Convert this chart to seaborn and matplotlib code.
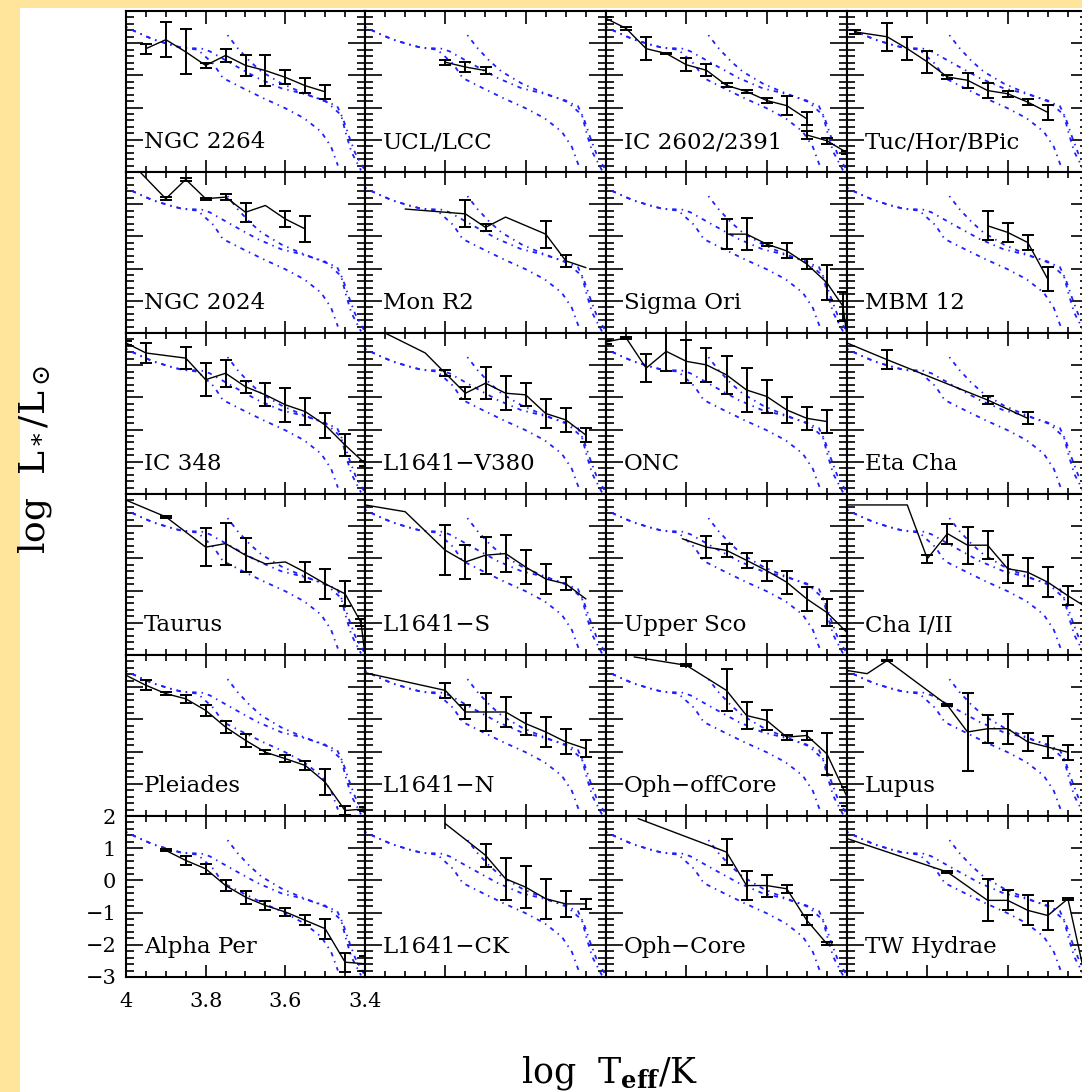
import numpy as np
import pandas as pd
import matplotlib
matplotlib.use("Agg")
import matplotlib.pyplot as plt
from matplotlib.patches import Rectangle
from matplotlib.ticker import MultipleLocator, FuncFormatter
import seaborn as sns

# ---------------- isochrones (shared by every panel) ----------------
iso_young_T = [3.745, 3.72, 3.69, 3.66, 3.61, 3.56, 3.51, 3.47, 3.455, 3.44, 3.425, 3.41, 3.40]
iso_young_L = [1.25, 0.85, 0.45, 0.12, -0.25, -0.52, -0.76, -0.95, -1.35, -1.90, -2.40, -2.75, -2.95]
iso_mid_T = [4.00, 3.96, 3.93, 3.89, 3.86, 3.81, 3.79, 3.73, 3.67, 3.61, 3.56, 3.50, 3.46, 3.447, 3.434, 3.41]
iso_mid_L = [1.50, 1.27, 1.11, 0.96, 0.86, 0.83, 0.75, 0.33, -0.08, -0.40, -0.55, -0.78, -1.23, -1.85, -2.38, -2.95]
iso_old_T = [4.00, 3.96, 3.93, 3.89, 3.86, 3.82, 3.78, 3.757, 3.706, 3.655, 3.60, 3.553, 3.51, 3.485, 3.468]
iso_old_L = [1.50, 1.27, 1.11, 0.96, 0.86, 0.80, 0.35, -0.08, -0.40, -0.71, -1.02, -1.33, -1.75, -2.22, -2.80]

# ---------------- cluster data: log Teff, log L, error ----------------
ngc2264_T = [3.95, 3.90, 3.85, 3.80, 3.75, 3.70, 3.65, 3.60, 3.55, 3.50]
ngc2264_L = [0.83, 1.11, 0.73, 0.31, 0.62, 0.31, 0.15, -0.06, -0.32, -0.51]
ngc2264_E = [0.16, 0.55, 0.70, 0.08, 0.20, 0.32, 0.47, 0.22, 0.23, 0.22]

ucl_T = [3.80, 3.75, 3.70]
ucl_L = [0.41, 0.26, 0.15]
ucl_E = [0.08, 0.15, 0.12]

ic2602_T = [4.00, 3.95, 3.90, 3.85, 3.80, 3.75, 3.70, 3.65, 3.60, 3.55, 3.50, 3.50, 3.45, 3.40]
ic2602_L = [1.77, 1.46, 0.83, 0.68, 0.33, 0.16, -0.31, -0.50, -0.78, -0.94, -1.35, -1.85, -2.03, -2.40]
ic2602_E = [0.05, 0.05, 0.36, 0.03, 0.20, 0.18, 0.06, 0.05, 0.08, 0.30, 0.20, 0.12, 0.10, 0.05]

tuc_T = [3.98, 3.90, 3.85, 3.80, 3.75, 3.70, 3.65, 3.60, 3.55, 3.50]
tuc_L = [1.35, 1.20, 0.83, 0.42, -0.05, -0.15, -0.47, -0.57, -0.83, -1.15]
tuc_E = [0.05, 0.44, 0.36, 0.34, 0.05, 0.23, 0.23, 0.10, 0.10, 0.23]

ngc2024_T = [4.00, 3.90, 3.85, 3.80, 3.75, 3.70, 3.65, 3.60, 3.55]
ngc2024_L = [2.45, 1.17, 1.77, 1.17, 1.22, 0.75, 0.96, 0.54, 0.23]
ngc2024_E = [0.0, 0.04, 0.04, 0.03, 0.10, 0.30, 0.0, 0.25, 0.40]

monr2_T = [3.90, 3.75, 3.70, 3.65, 3.55, 3.50, 3.45]
monr2_L = [0.85, 0.70, 0.28, 0.60, 0.07, -0.76, -0.97]
monr2_E = [0.0, 0.42, 0.10, 0.0, 0.42, 0.18, 0.0]

sigori_T = [3.70, 3.65, 3.60, 3.55, 3.50, 3.45, 3.41, 3.40]
sigori_L = [0.07, 0.07, -0.24, -0.45, -0.86, -1.44, -2.17, -3.10]
sigori_E = [0.47, 0.50, 0.05, 0.23, 0.15, 0.55, 0.45, 0.0]

mbm12_T = [3.65, 3.60, 3.55, 3.50]
mbm12_L = [0.33, 0.125, -0.19, -1.33]
mbm12_E = [0.45, 0.30, 0.22, 0.38]

ic348_T = [4.00, 3.95, 3.85, 3.80, 3.75, 3.70, 3.65, 3.60, 3.55, 3.50, 3.45, 3.40]
ic348_L = [1.69, 1.38, 1.22, 0.55, 0.75, 0.33, 0.08, -0.23, -0.44, -0.86, -1.48, -2.05]
ic348_E = [0.05, 0.31, 0.34, 0.52, 0.42, 0.18, 0.36, 0.52, 0.42, 0.39, 0.34, 0.08]

v380_T = [3.95, 3.85, 3.80, 3.75, 3.70, 3.65, 3.60, 3.55, 3.50, 3.45]
v380_L = [2.00, 1.38, 0.75, 0.13, 0.44, 0.13, 0.08, -0.50, -0.70, -1.17]
v380_E = [0.0, 0.0, 0.10, 0.18, 0.50, 0.52, 0.36, 0.44, 0.36, 0.23]

onc_T = [4.00, 3.95, 3.90, 3.85, 3.80, 3.75, 3.70, 3.65, 3.60, 3.55, 3.50, 3.45]
onc_L = [1.72, 1.85, 0.91, 1.43, 1.12, 1.01, 0.70, 0.23, 0.03, -0.39, -0.65, -0.75]
onc_E = [0.05, 0.03, 0.44, 0.60, 0.67, 0.52, 0.60, 0.67, 0.50, 0.39, 0.36, 0.36]

etacha_T = [4.00, 3.90, 3.65, 3.55]
etacha_L = [1.69, 1.17, -0.08, -0.65]
etacha_E = [0.0, 0.29, 0.12, 0.19]

taurus_T = [4.00, 3.90, 3.80, 3.75, 3.70, 3.65, 3.60, 3.55, 3.50, 3.45, 3.41, 3.40]
taurus_L = [1.81, 1.29, 0.35, 0.46, 0.10, -0.17, -0.11, -0.43, -0.79, -1.10, -1.99, -3.00]
taurus_E = [0.0, 0.03, 0.60, 0.65, 0.52, 0.0, 0.0, 0.31, 0.47, 0.39, 0.10, 0.0]

l1641s_T = [4.00, 3.90, 3.80, 3.75, 3.70, 3.65, 3.60, 3.55, 3.50, 3.45]
l1641s_L = [1.66, 1.45, 0.25, -0.11, 0.10, 0.15, -0.27, -0.64, -0.79, -1.26]
l1641s_E = [0.0, 0.0, 0.78, 0.52, 0.57, 0.57, 0.52, 0.47, 0.20, 0.0]

usco_T = [3.81, 3.75, 3.70, 3.65, 3.60, 3.55, 3.50, 3.45, 3.40]
usco_L = [0.61, 0.35, 0.25, -0.06, -0.38, -0.74, -1.26, -1.68, -2.30]
usco_E = [0.0, 0.34, 0.20, 0.23, 0.31, 0.36, 0.36, 0.42, 0.10]

cha_T = [4.00, 3.85, 3.80, 3.75, 3.70, 3.65, 3.60, 3.55, 3.50, 3.45, 3.40]
cha_L = [1.66, 1.66, -0.01, 0.77, 0.41, 0.41, -0.32, -0.43, -0.74, -1.16, -1.55]
cha_E = [0.0, 0.0, 0.12, 0.31, 0.57, 0.44, 0.44, 0.44, 0.47, 0.29, 0.10]

pleiades_T = [4.00, 3.95, 3.90, 3.85, 3.80, 3.75, 3.70, 3.65, 3.60, 3.55, 3.50, 3.45, 3.40]
pleiades_L = [1.37, 1.06, 0.80, 0.64, 0.28, -0.24, -0.65, -1.02, -1.22, -1.43, -1.95, -2.83, -2.78]
pleiades_E = [0.0, 0.15, 0.05, 0.12, 0.18, 0.18, 0.20, 0.06, 0.10, 0.15, 0.41, 0.15, 0.05]

l1641n_T = [4.00, 3.80, 3.75, 3.70, 3.65, 3.60, 3.55, 3.50, 3.45]
l1641n_L = [1.45, 0.90, 0.23, 0.23, 0.23, -0.13, -0.39, -0.70, -0.91]
l1641n_E = [0.0, 0.23, 0.21, 0.60, 0.47, 0.34, 0.47, 0.39, 0.26]

ophoff_T = [3.93, 3.80, 3.70, 3.65, 3.60, 3.55, 3.50, 3.45, 3.40]
ophoff_L = [1.94, 1.68, 0.90, 0.12, -0.03, -0.55, -0.50, -1.07, -2.40]
ophoff_E = [0.0, 0.03, 0.65, 0.41, 0.31, 0.08, 0.13, 0.65, 0.30]

lupus_T = [4.00, 3.95, 3.90, 3.75, 3.70, 3.65, 3.60, 3.55, 3.50, 3.45]
lupus_L = [1.52, 1.42, 1.83, 0.44, -0.39, -0.29, -0.29, -0.70, -0.86, -1.02]
lupus_E = [0.0, 0.0, 0.03, 0.03, 1.20, 0.44, 0.47, 0.28, 0.34, 0.23]

alphaper_T = [3.90, 3.85, 3.80, 3.75, 3.70, 3.65, 3.60, 3.55, 3.50, 3.45, 3.40]
alphaper_L = [0.93, 0.62, 0.36, -0.16, -0.52, -0.78, -0.98, -1.24, -1.50, -2.54, -2.59]
alphaper_E = [0.03, 0.15, 0.15, 0.18, 0.20, 0.15, 0.13, 0.15, 0.31, 0.30, 0.23]

l1641ck_T = [3.80, 3.70, 3.65, 3.60, 3.55, 3.50, 3.45]
l1641ck_L = [1.76, 0.78, 0.05, -0.21, -0.57, -0.73, -0.73]
l1641ck_E = [0.0, 0.36, 0.65, 0.65, 0.62, 0.41, 0.16]

ophcore_T = [3.92, 3.70, 3.65, 3.60, 3.55, 3.50, 3.45]
ophcore_L = [1.92, 0.88, -0.16, -0.16, -0.26, -1.24, -1.97]
ophcore_E = [0.0, 0.41, 0.44, 0.34, 0.13, 0.15, 0.05]

twhya_T = [4.00, 3.75, 3.65, 3.60, 3.55, 3.50, 3.45, 3.40]
twhya_L = [1.30, 0.26, -0.62, -0.62, -0.93, -1.09, -0.57, -3.40]
twhya_E = [0.0, 0.03, 0.65, 0.31, 0.47, 0.44, 0.03, 0.0]

panel_labels = ["NGC 2264", "UCL/LCC", "IC 2602/2391", "Tuc/Hor/BPic",
                "NGC 2024", "Mon R2", "Sigma Ori", "MBM 12",
                "IC 348", "L1641\u2212V380", "ONC", "Eta Cha",
                "Taurus", "L1641\u2212S", "Upper Sco", "Cha I/II",
                "Pleiades", "L1641\u2212N", "Oph\u2212offCore", "Lupus",
                "Alpha Per", "L1641\u2212CK", "Oph\u2212Core", "TW Hydrae"]

x_ticklabels = ["4", "3.8", "3.6", "3.4"]

panel_data = [
    (ngc2264_T, ngc2264_L, ngc2264_E), (ucl_T, ucl_L, ucl_E),
    (ic2602_T, ic2602_L, ic2602_E), (tuc_T, tuc_L, tuc_E),
    (ngc2024_T, ngc2024_L, ngc2024_E), (monr2_T, monr2_L, monr2_E),
    (sigori_T, sigori_L, sigori_E), (mbm12_T, mbm12_L, mbm12_E),
    (ic348_T, ic348_L, ic348_E), (v380_T, v380_L, v380_E),
    (onc_T, onc_L, onc_E), (etacha_T, etacha_L, etacha_E),
    (taurus_T, taurus_L, taurus_E), (l1641s_T, l1641s_L, l1641s_E),
    (usco_T, usco_L, usco_E), (cha_T, cha_L, cha_E),
    (pleiades_T, pleiades_L, pleiades_E), (l1641n_T, l1641n_L, l1641n_E),
    (ophoff_T, ophoff_L, ophoff_E), (lupus_T, lupus_L, lupus_E),
    (alphaper_T, alphaper_L, alphaper_E), (l1641ck_T, l1641ck_L, l1641ck_E),
    (ophcore_T, ophcore_L, ophcore_E), (twhya_T, twhya_L, twhya_E),
]
isochrones = [(iso_young_T, iso_young_L), (iso_mid_T, iso_mid_L), (iso_old_T, iso_old_L)]

# ---------------- styling ----------------
sns.set_theme(style="ticks")
plt.rcParams["font.family"] = ["DejaVu Serif", "DejaVu Sans"]
plt.rcParams["mathtext.fontset"] = "dejavuserif"
for key in ["text.color", "axes.labelcolor", "xtick.color", "ytick.color", "axes.edgecolor"]:
    plt.rcParams[key] = "black"

W, H = 1082, 1092
fig = plt.figure(figsize=(W / 100, H / 100), dpi=100)
fig.patch.set_facecolor("white")
yellow = "#FFE49C"
fig.patches.append(Rectangle((0, 0), 20 / W, 1, transform=fig.transFigure,
                             facecolor=yellow, edgecolor="none", zorder=-10))
fig.patches.append(Rectangle((0, 1 - 8 / H), 1, 8 / H, transform=fig.transFigure,
                             facecolor=yellow, edgecolor="none", zorder=-10))

col_edges = [126, 365, 606, 847, 1088]
row_top = [11, 172, 333, 494, 655, 816]
row_h = 161

iso_color = "#2020ff"
iso_style = (0, (0.8, 2.8, 2.4, 2.8))

for i, (label, (T, L, E)) in enumerate(zip(panel_labels, panel_data)):
    r, c = divmod(i, 4)
    x0, x1 = col_edges[c], col_edges[c + 1]
    ax = fig.add_axes([x0 / W, 1 - (row_top[r] + row_h) / H, (x1 - x0) / W, row_h / H])
    ax.set_facecolor("white")
    for isoT, isoL in isochrones:
        sns.lineplot(x=isoT, y=isoL, ax=ax, sort=False, estimator=None,
                     color=iso_color, linewidth=1.3, linestyle=iso_style)
    df = pd.DataFrame({"T": T, "L": L, "E": E})
    sns.lineplot(data=df, x="T", y="L", ax=ax, sort=False, estimator=None,
                 color="black", linewidth=1.0)
    m = df["E"] > 0
    ax.errorbar(df["T"][m], df["L"][m], yerr=df["E"][m], fmt="none", ecolor="black",
                elinewidth=1.4, capsize=4.2, capthick=1.4)
    ax.text(3.955, -2.27, label, fontsize=16.5, ha="left", va="baseline", color="black",
            zorder=5)
    ax.set_xlim(4.0, 3.4)
    ax.set_ylim(-3, 2)
    ax.set_xlabel("")
    ax.set_ylabel("")
    ax.xaxis.set_major_locator(MultipleLocator(0.2))
    ax.xaxis.set_minor_locator(MultipleLocator(0.05))
    ax.yaxis.set_major_locator(MultipleLocator(1))
    ax.yaxis.set_minor_locator(MultipleLocator(0.2))
    ax.tick_params(which="both", direction="in", top=True, right=True, bottom=True,
                   left=True, color="black", width=1.2)
    ax.tick_params(axis="x", which="major", length=9)
    ax.tick_params(axis="x", which="minor", length=4.5)
    ax.tick_params(axis="y", which="major", length=12)
    ax.tick_params(axis="y", which="minor", length=6)
    for sp in ax.spines.values():
        sp.set_linewidth(1.5)
        sp.set_color("black")
    if r == 5 and c == 0:
        ax.set_xticks([4.0, 3.8, 3.6, 3.4])
        ax.set_xticklabels(x_ticklabels)
        ax.yaxis.set_major_formatter(FuncFormatter(
            lambda v, p: f"{int(round(v))}".replace("-", "\u2212")))
        ax.tick_params(axis="x", labelsize=15, pad=11, labelbottom=True, labelcolor="black")
        ax.tick_params(axis="y", labelsize=15, pad=7, labelleft=True, labelcolor="black")
    else:
        ax.tick_params(labelbottom=False, labelleft=False)

fig.text(35 / W, 1 - 460 / H, r"log  L$_*$/L$_\odot$", rotation=90, fontsize=26,
         ha="center", va="center", color="black")
fig.text(610 / W, 1 - 1073 / H, r"log  T$_{\mathbf{eff}}$/K", fontsize=25,
         ha="center", va="center", color="black")

fig.savefig("out.png", dpi=100, facecolor=fig.get_facecolor())
